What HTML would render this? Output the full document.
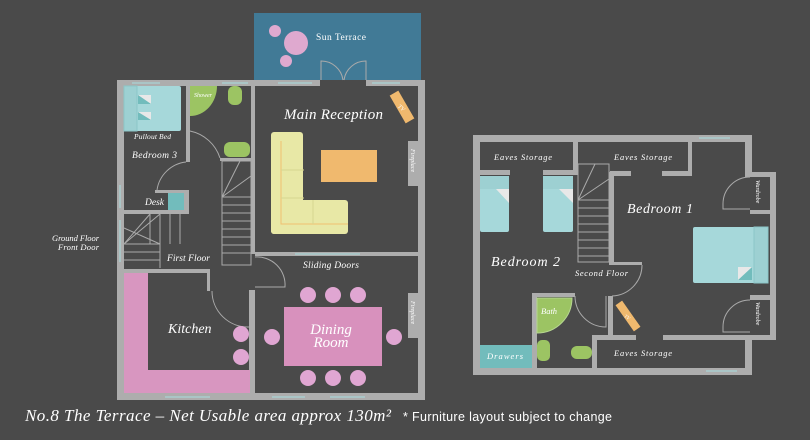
<!DOCTYPE html>
<html><head><meta charset="utf-8"><style>
html,body{margin:0;padding:0;background:#4a4a4a;}
svg{display:block}
.l{font-family:"Liberation Serif",serif;font-style:italic;fill:#fff}
</style></head><body>
<svg width="810" height="440" viewBox="0 0 810 440" xmlns="http://www.w3.org/2000/svg">
<rect width="810" height="440" fill="#4a4a4a"/>
<!-- Sun terrace -->
<rect x="254" y="13" width="167" height="67" fill="#417a96"/>
<circle cx="275" cy="31" r="6" fill="#dfa9cf"/>
<circle cx="296" cy="43" r="12" fill="#dfa9cf"/>
<circle cx="286" cy="61" r="6" fill="#dfa9cf"/>
<text x="316" y="40" class="l" font-size="9.5" style="font-style:normal" textLength="50">Sun Terrace</text>
<g stroke="#aaa" stroke-width="1" fill="none">
<path d="M321 80 V61 A22 22 0 0 1 343 80"/><path d="M366 80 V61 A22 22 0 0 0 344 80"/>
</g>

<!-- LEFT PLAN walls -->
<g fill="#adadad">
<rect x="117" y="80" width="203" height="6"/><rect x="366" y="80" width="59" height="6"/>
<rect x="117" y="80" width="7" height="315"/>
<rect x="418" y="80" width="7" height="320"/>
<rect x="117" y="393" width="308" height="7"/>
<rect x="186" y="86" width="4" height="76"/>
<rect x="251" y="86" width="4" height="168"/>
<rect x="255" y="252" width="170" height="4"/>
<rect x="220" y="158" width="32" height="3"/>
<rect x="249" y="290" width="6" height="105"/>
<rect x="117" y="269" width="93" height="4"/>
<rect x="207" y="269" width="3" height="22"/>
<rect x="117" y="210" width="72" height="4"/>
<rect x="184" y="190" width="5" height="24"/>
<rect x="155" y="190" width="34" height="3"/>
<rect x="408" y="141" width="10" height="45"/>
<rect x="408" y="293" width="10" height="45"/>
</g>
<g stroke="#a6dde0" stroke-width="1">
<line x1="132" y1="83" x2="160" y2="83"/><line x1="222" y1="83" x2="248" y2="83"/><line x1="278" y1="83" x2="312" y2="83"/><line x1="372" y1="83" x2="400" y2="83"/>
<line x1="120" y1="185" x2="120" y2="208"/><line x1="120" y1="220" x2="120" y2="262"/>
<line x1="165" y1="397" x2="210" y2="397"/><line x1="272" y1="397" x2="305" y2="397"/><line x1="330" y1="397" x2="365" y2="397"/>
<line x1="295" y1="254" x2="360" y2="254"/>
</g>
<!-- stairs -->
<g stroke="#aaa" stroke-width="1" fill="none">
<rect x="222" y="161" width="29" height="104"/>
<path d="M222 197 L240 161 M222 197 L251 176 M222 197 H251 M222 205 H251 M222 213 H251 M222 221 H251 M222 229 H251 M222 237 H251 M222 245 H251 M222 253 H251"/>
<path d="M124 244 L160 214 M124 228 L160 244 M124 244 L150 214 M124 244 H160 V214 M124 252 H160 M124 260 H160 M160 214 V268 M170 214 V244 M180 214 V244 M150 214 V244"/>
<path d="M190 131 A40 40 0 0 1 220 158"/>
<path d="M157 190 A33 33 0 0 1 186 162"/>
<path d="M255 257 A28 28 0 0 1 285 287 H255"/>
<path d="M212 291 A36 36 0 0 0 249 327"/>
</g>
<!-- furniture left -->
<rect x="124" y="86" width="57" height="45" rx="2" fill="#a6d8da"/>
<rect x="124" y="86" width="13" height="45" fill="#9dd0d2" stroke="#8cc6c8" stroke-width="1"/>
<polygon points="138,112 151,112 151,120" fill="#e8e8e8"/><polygon points="138,112 151,120 138,120" fill="#72bcbc"/>
<polygon points="138,95 151,95 151,104" fill="#e8e8e8"/><polygon points="138,95 151,104 138,104" fill="#72bcbc"/>
<rect x="168" y="193" width="16" height="17" fill="#72bcbc"/>
<path d="M190 86 H217 A27 30 0 0 1 190 116 Z" fill="#9cc463"/>
<rect x="228" y="86" width="14" height="19" rx="6" fill="#9cc463"/>
<rect x="224" y="142" width="26" height="15" rx="6" fill="#9cc463"/>
<rect x="124" y="273" width="24" height="120" fill="#d896c0"/>
<rect x="124" y="370" width="126" height="23" fill="#d896c0"/>
<circle cx="241" cy="334" r="8" fill="#e0a6d2"/><circle cx="241" cy="357" r="8" fill="#e0a6d2"/>
<rect x="271" y="132" width="32" height="102" rx="3" fill="#e8e8a6"/>
<rect x="271" y="200" width="77" height="34" rx="3" fill="#e8e8a6"/>
<path d="M281 141 V224 H348" stroke="#f0c070" stroke-width="1" fill="none"/>
<g stroke="#d6d690" stroke-width="1" fill="none"><path d="M281 170 H304 M281 198 H304 M313 200 V224"/></g>
<rect x="321" y="150" width="56" height="32" fill="#f0b96e"/>
<g transform="translate(402,107) rotate(-30)"><rect x="-5" y="-16" width="10" height="32" fill="#f0b96e"/><text x="0" y="3" font-size="6" fill="#fff" text-anchor="middle" transform="rotate(70)" font-family="Liberation Serif" font-style="italic">TV</text></g>
<rect x="284" y="307" width="98" height="59" fill="#d891bd"/>
<g fill="#e0a6d2">
<circle cx="308" cy="295" r="8"/><circle cx="333" cy="295" r="8"/><circle cx="358" cy="295" r="8"/>
<circle cx="308" cy="378" r="8"/><circle cx="333" cy="378" r="8"/><circle cx="358" cy="378" r="8"/>
<circle cx="272" cy="337" r="8"/><circle cx="394" cy="337" r="8"/>
</g>
<text class="l" font-size="6" transform="translate(411,149) rotate(90)">Fireplace</text>
<text class="l" font-size="6" transform="translate(411,301) rotate(90)">Fireplace</text>
<!-- left labels -->
<text x="284" y="119" class="l" font-size="15" textLength="99">Main Reception</text>
<text x="134" y="139" class="l" font-size="7.5" textLength="37">Pullout Bed</text>
<text x="132" y="158" class="l" font-size="9.5" textLength="45">Bedroom 3</text>
<text x="194" y="97" class="l" font-size="6">Shower</text>
<text x="145" y="205" class="l" font-size="9.5">Desk</text>
<text x="167" y="261" class="l" font-size="9.5" textLength="43">First Floor</text>
<text x="52" y="241" class="l" font-size="8.5" textLength="47">Ground Floor</text>
<text x="58" y="250" class="l" font-size="8.5" textLength="41">Front Door</text>
<text x="303" y="268" class="l" font-size="9.5" textLength="56">Sliding Doors</text>
<text x="168" y="333" class="l" font-size="14">Kitchen</text>
<text x="331" y="334" class="l" font-size="15" text-anchor="middle">Dining</text>
<text x="331" y="347" class="l" font-size="15" text-anchor="middle">Room</text>

<!-- RIGHT PLAN walls -->
<g fill="#adadad">
<rect x="473" y="135" width="279" height="7"/>
<rect x="473" y="135" width="7" height="240"/>
<rect x="745" y="135" width="7" height="42"/>
<rect x="745" y="172" width="31" height="5"/>
<rect x="770" y="172" width="6" height="168"/>
<rect x="750" y="210" width="26" height="4"/>
<rect x="750" y="295" width="26" height="5"/>
<rect x="745" y="335" width="31" height="5"/>
<rect x="745" y="335" width="7" height="40"/>
<rect x="473" y="368" width="279" height="7"/>
<rect x="573" y="142" width="5" height="31"/>
<rect x="688" y="142" width="4" height="30"/>
<rect x="480" y="170" width="30" height="5"/>
<rect x="543" y="170" width="35" height="5"/>
<rect x="610" y="171" width="21" height="5"/>
<rect x="662" y="171" width="30" height="5"/>
<rect x="609" y="172" width="5" height="92"/>
<rect x="609" y="262" width="33" height="3"/>
<rect x="532" y="293" width="5" height="80"/>
<rect x="532" y="293" width="43" height="4"/>
<rect x="608" y="296" width="5" height="40"/>
<rect x="592" y="335" width="44" height="5"/>
<rect x="663" y="335" width="87" height="5"/>
<rect x="592" y="335" width="5" height="35"/>
</g>
<g stroke="#a6dde0" stroke-width="1">
<line x1="699" y1="138" x2="730" y2="138"/><line x1="706" y1="371" x2="737" y2="371"/>
</g>
<g stroke="#aaa" stroke-width="1" fill="none">
<rect x="578" y="164" width="31" height="98"/>
<path d="M578 200 L595 164 M578 200 L609 179 M578 200 H609 M578 208 H609 M578 216 H609 M578 224 H609 M578 232 H609 M578 240 H609 M578 248 H609 M578 256 H609"/>
<path d="M612 296 A31 31 0 0 0 642 265"/>
<path d="M575 296 A31 31 0 0 0 606 327 V296"/>
<path d="M750 177 A27 27 0 0 0 723 204 V209 H750"/>
<path d="M750 300 A27 27 0 0 0 723 327 V332 H750"/>
</g>
<rect x="480" y="176" width="29" height="56" rx="2" fill="#a6d8da"/><rect x="480" y="176" width="29" height="13" fill="#9dd0d2"/>
<polygon points="496,189 509,189 509,203" fill="#e8e8e8"/>
<rect x="543" y="176" width="30" height="56" rx="2" fill="#a6d8da"/><rect x="543" y="176" width="30" height="13" fill="#9dd0d2"/>
<polygon points="559,189 573,189 573,203" fill="#e8e8e8"/>
<rect x="693" y="227" width="75" height="56" rx="2" fill="#a6d8da"/>
<rect x="754" y="227" width="14" height="56" fill="#9dd0d2" stroke="#8cc6c8" stroke-width="1"/>
<polygon points="738,280 752,267 752,280" fill="#72bcbc"/><polygon points="738,267 752,267 738,280" fill="#e8e8e8"/>
<rect x="480" y="345" width="52" height="23" fill="#72bcbc"/>
<path d="M537 298 H572 A35 35 0 0 1 537 333 Z" fill="#9cc463" stroke="#b6d690" stroke-width="1"/>
<rect x="537" y="340" width="13" height="21" rx="5" fill="#9cc463"/>
<rect x="571" y="346" width="21" height="13" rx="6" fill="#9cc463"/>
<g transform="translate(628,316) rotate(-35)"><rect x="-4" y="-16" width="8" height="32" fill="#f0b96e"/><text x="0" y="3" font-size="5" fill="#fff" text-anchor="middle" transform="rotate(70)" font-family="Liberation Serif" font-style="italic">TV</text></g>
<text x="494" y="160" class="l" font-size="8.5" textLength="58">Eaves Storage</text>
<text x="614" y="160" class="l" font-size="8.5" textLength="58">Eaves Storage</text>
<text x="614" y="356" class="l" font-size="8.5" textLength="58">Eaves Storage</text>
<text x="627" y="213" class="l" font-size="14" textLength="66">Bedroom 1</text>
<text x="491" y="266" class="l" font-size="14" textLength="69">Bedroom 2</text>
<text x="575" y="276" class="l" font-size="8.5" textLength="53">Second Floor</text>
<text x="541" y="314" class="l" font-size="8.5">Bath</text>
<text x="487" y="359" class="l" font-size="8.5" textLength="36">Drawers</text>
<text class="l" font-size="6" transform="translate(756,180) rotate(90)">Wardrobe</text>
<text class="l" font-size="6" transform="translate(756,302) rotate(90)">Wardrobe</text>

<!-- footer -->
<text x="25" y="421" class="l" font-size="17" textLength="366">No.8 The Terrace – Net Usable area approx 130m²</text>
<text x="403" y="421" font-family="Liberation Sans, sans-serif" font-size="12.5" fill="#fff" textLength="209">* Furniture layout subject to change</text>
</svg>
</body></html>
